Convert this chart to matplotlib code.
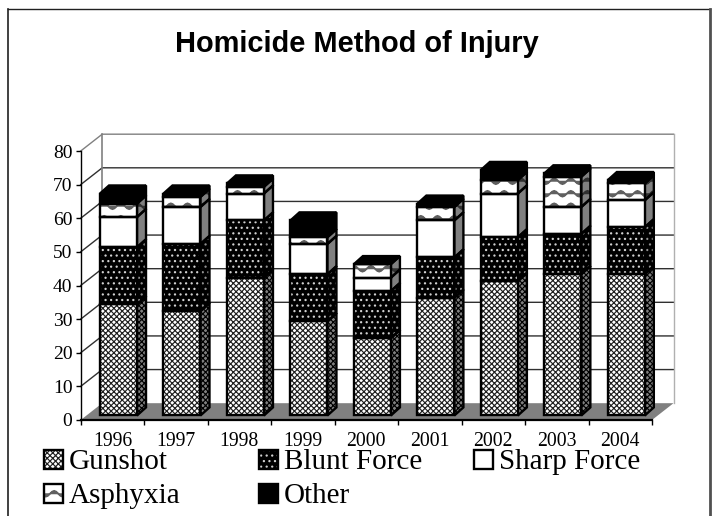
import numpy as np
import matplotlib
matplotlib.use('Agg')
import matplotlib.pyplot as plt
import matplotlib.hatch as mhatch
from matplotlib.lines import Line2D
from matplotlib.patches import Polygon, Rectangle
from matplotlib.path import Path

years = ['1996', '1997', '1998', '1999', '2000', '2001', '2002', '2003', '2004']
gunshot = [33, 31, 41, 28, 23, 35, 40, 42, 42]
blunt = [17, 20, 17, 14, 14, 12, 13, 12, 14]
sharp = [9, 11, 8, 9, 4, 11, 13, 8, 8]
asphyxia = [4, 3, 2, 2, 4, 4, 4, 9, 5]
other = [3, 1, 1, 5, 0, 1, 3, 1, 1]
names = ['Gunshot', 'Blunt Force', 'Sharp Force', 'Asphyxia', 'Other']
yticks = [0, 10, 20, 30, 40, 50, 60, 70, 80]


# wavy hatch, matplotlib has none
class WaveHatch(mhatch.HatchPatternBase):
    def __init__(self, hatch, density):
        self.rows = hatch.count('~') * 8
        self.steps = 48
        self.offsets = [-0.005, 0.005]
        self.num_vertices = self.rows * len(self.offsets) * (self.steps + 1)

    def set_vertices_and_codes(self, vertices, codes):
        t = np.linspace(0, 1, self.steps + 1)
        n = self.steps + 1
        i = 0
        for r in range(self.rows):
            for off in self.offsets:
                vertices[i:i + n, 0] = t
                vertices[i:i + n, 1] = (r + 0.5) / self.rows + off + 0.027 * np.sin(t * 2 * np.pi * 6)
                codes[i] = Path.MOVETO
                codes[i + 1:i + n] = Path.LINETO
                i += n


mhatch._hatch_types.append(WaveHatch)

plt.rcParams['font.family'] = ['Liberation Serif']
plt.rcParams['hatch.linewidth'] = 0.85

W, H = 713, 516
fig = plt.figure(figsize=(W / 100, H / 100), dpi=100)
ax = fig.add_axes([80.7 / W, (H - 420) / H, (652 - 80.7) / W, (420 - 151) / H])
ax.set_xlim(0, 9)
ax.set_ylim(0, 80)
ax.patch.set_alpha(0)

# depth of the box and of the bars, in data units
box_dx, box_dy = 0.339, 5.0
bar_dx, bar_dy = 0.142, 2.4
bar_w = 0.583
start_x = 0.304
start_y = 1.35

# walls and floor
grey = '#808080'
ax.add_patch(Polygon([(0, 0), (9, 0), (9 + box_dx, box_dy), (box_dx, box_dy)], fc=grey, ec='none',
                     clip_on=False, zorder=1))
for v in yticks[1:]:
    c = grey if v == 80 else '#303030'
    ax.plot([0, box_dx, 9 + box_dx], [v, v + box_dy, v + box_dy], color=c, lw=1.0, clip_on=False, zorder=1)
ax.plot([box_dx, box_dx], [box_dy, 80 + box_dy], color=grey, lw=1.2, clip_on=False, zorder=1)
ax.plot([9 + box_dx, 9 + box_dx], [box_dy, 80 + box_dy], color='#b0b0b0', lw=1.0, clip_on=False, zorder=1)

series = [gunshot, blunt, sharp, asphyxia, other]
# front colour, hatch colour, hatch, side colour, side hatch colour
styles = [('white', '#202020', 'xxxxxx', '#808080', 'black'),
          ('black', '#d0d0d0', '...', 'black', '#909090'),
          ('white', 'white', '', grey, grey),
          ('white', '#606060', '~', '#808080', '#303030'),
          ('black', 'black', '', 'black', 'black')]


def face(pts, fc, hc, hatch, z):
    if hatch:
        ax.add_patch(Polygon(pts, fc=fc, ec=hc, hatch=hatch, lw=0, clip_on=False, zorder=z))
    else:
        ax.add_patch(Polygon(pts, fc=fc, ec='none', clip_on=False, zorder=z))
    ax.add_patch(Polygon(pts, fc='none', ec='black', lw=1.7, joinstyle='miter', clip_on=False, zorder=z + 0.1))


for i in range(len(years)):
    x0 = i + start_x
    x1 = x0 + bar_w
    bottom = 0
    z = 3 + i
    for vals, st in zip(series, styles):
        v = vals[i]
        if v > 0:
            y0 = start_y + bottom
            y1 = y0 + v
            fc, hc, hatch, sc, shc = st
            face([(x1, y0), (x1 + bar_dx, y0 + bar_dy), (x1 + bar_dx, y1 + bar_dy), (x1, y1)], sc, shc, hatch, z)
            face([(x0, y0), (x1, y0), (x1, y1), (x0, y1)], fc, hc, hatch, z + 0.2)
        bottom += v
    top = start_y + bottom
    face([(x0, top), (x1, top), (x1 + bar_dx, top + bar_dy), (x0 + bar_dx, top + bar_dy)], 'black', 'black', '', z + 0.4)

# axes
for s in ['top', 'right']:
    ax.spines[s].set_visible(False)
ax.spines['left'].set_linewidth(1.0)
ax.spines['bottom'].set_linewidth(1.6)
ax.spines['left'].set_zorder(2)
ax.spines['bottom'].set_zorder(2)
ax.set_yticks(yticks)
ax.tick_params(axis='y', length=3.5, width=1.0, labelsize=14, pad=2.5)
ax.set_xticks(range(10))
ax.set_xticklabels([])
ax.set_xticks(np.arange(9) + 0.5, years, minor=True)
ax.tick_params(axis='x', which='major', length=3.5, width=1.0)
ax.tick_params(axis='x', which='minor', length=0, labelsize=14.2, pad=8.5)

# chart title
fig.text(357 / W, 1 - 52 / H, 'Homicide Method of Injury', ha='center', va='baseline',
         family='Liberation Sans', weight='bold', fontsize=20.9)

# legend, placed by hand to keep the wide columns
leg_x = [43.7, 258.6, 474.4, 43.7, 258.6]
leg_y = [469, 469, 469, 503, 503]
for name, st, lx, ly in zip(names, styles, leg_x, leg_y):
    fc, hc, hatch = st[:3]
    box = [lx / W, 1 - ly / H, 19 / W, 19 / H]
    if hatch:
        fig.add_artist(Rectangle(box[:2], box[2], box[3], transform=fig.transFigure, fc=fc, ec=hc, hatch=hatch, lw=0))
    fig.add_artist(Rectangle(box[:2], box[2], box[3], transform=fig.transFigure,
                             fc='none' if hatch else fc, ec='black', lw=1.7))
    fig.text((lx + 25) / W, 1 - ly / H, name, ha='left', va='baseline', fontsize=21)

# chart frame
fig.add_artist(Line2D([8 / W, 8 / W], [0, 1 - 9 / H], color='#202020', lw=1.2))
fig.add_artist(Line2D([8 / W, 710 / W], [1 - 9 / H, 1 - 9 / H], color='#202020', lw=1.0))
fig.add_artist(Line2D([710 / W, 710 / W], [0, 1 - 9 / H], color='#505050', lw=2.0))

fig.savefig('out.png', dpi=100)
